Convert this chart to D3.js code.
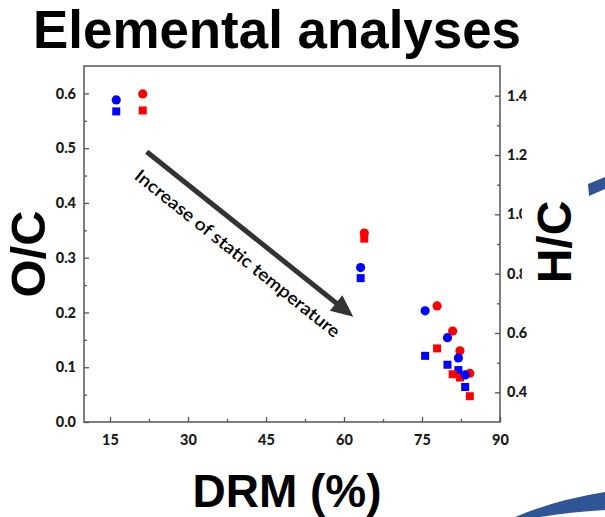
<!DOCTYPE html>
<html><head><meta charset="utf-8">
<script src="https://cdn.jsdelivr.net/npm/d3@7"></script>
<style>
html,body{margin:0;padding:0;background:#fff;}
svg{display:block;}
</style></head>
<body>
<script>
// ---- data ----
const drmBlue = [16.2, 63.2, 75.6, 79.9, 82.0, 83.3];
const ocBlue  = [0.588, 0.282, 0.203, 0.154, 0.117, 0.086];
const hcBlue  = [1.347, 0.785, 0.523, 0.493, 0.475, 0.418];
const drmRed  = [21.3, 63.9, 77.9, 80.9, 82.3, 84.2];
const ocRed   = [0.599, 0.345, 0.212, 0.166, 0.130, 0.089];
const hcRed   = [1.350, 0.918, 0.548, 0.461, 0.450, 0.387];
const xTicks  = [15, 30, 45, 60, 75, 90];
const xMinor  = [22.5, 37.5, 52.5, 67.5, 82.5];
const yLTicks = [0, 0.1, 0.2, 0.3, 0.4, 0.5, 0.6];
const yLMinor = [0.05, 0.15, 0.25, 0.35, 0.45, 0.55];
const yRTicks = [0.4, 0.6, 0.8, 1.0, 1.2, 1.4];
const yRMinor = [0.5, 0.7, 0.9, 1.1, 1.3];
const titleText = "Elemental analyses";
const arrowText = "Increase of static temperature";

const W = 605, H = 517;
const L = 84, R = 500, T = 66, B = 422;

const svg = d3.select("body").append("svg").attr("width", W).attr("height", H);

const x = d3.scaleLinear().domain([10, 90]).range([L, R]);
const yL = d3.scaleLinear().domain([0, 0.65]).range([B, T]);
const yR = d3.scaleLinear().domain([0.3, 1.5]).range([B, T]);

const tickFont = "Lato, 'Open Sans', sans-serif";
const axisColor = "#555";

function styleAxis(g){
  g.select(".domain").remove();
  g.selectAll(".tick line").attr("stroke", axisColor).attr("stroke-width", 1.3);
  g.selectAll(".tick text").attr("fill", "#1a1a1a").style("font-family", tickFont)
    .style("font-weight", "900").style("font-size", "14.5px");
}

// bottom axis
svg.append("g").attr("transform", `translate(0,${B})`)
  .call(d3.axisBottom(x).tickValues(xTicks).tickSize(-5).tickPadding(13).tickFormat(d3.format("d")))
  .call(styleAxis);
svg.append("g").attr("transform", `translate(0,${B})`)
  .call(d3.axisBottom(x).tickValues(xMinor).tickSize(-3).tickFormat(""))
  .call(styleAxis);

// left axis
svg.append("g").attr("transform", `translate(${L},0)`)
  .call(d3.axisLeft(yL).tickValues(yLTicks).tickSize(-5).tickPadding(8).tickFormat(d3.format(".1f")))
  .call(styleAxis);
svg.append("g").attr("transform", `translate(${L},0)`)
  .call(d3.axisLeft(yL).tickValues(yLMinor).tickSize(-3).tickFormat(""))
  .call(styleAxis);

// right axis
svg.append("g").attr("transform", `translate(${R},0)`)
  .call(d3.axisRight(yR).tickValues(yRTicks).tickSize(-5).tickPadding(7).tickFormat(d3.format(".1f")))
  .call(styleAxis);
svg.append("g").attr("transform", `translate(${R},0)`)
  .call(d3.axisRight(yR).tickValues(yRMinor).tickSize(-3).tickFormat(""))
  .call(styleAxis);

// frame
svg.append("rect").attr("x", L).attr("y", T).attr("width", R - L).attr("height", B - T)
  .attr("fill", "none").attr("stroke", axisColor).attr("stroke-width", 1.5);

// markers
const sq = 8, rad = 4.6;
function squares(xs, ys, color){
  svg.append("g").selectAll("rect").data(xs.map((d,i)=>[d, ys[i]])).join("rect")
    .attr("x", d => x(d[0]) - sq/2).attr("y", d => yR(d[1]) - sq/2)
    .attr("width", sq).attr("height", sq).attr("fill", color);
}
function circles(xs, ys, color){
  svg.append("g").selectAll("circle").data(xs.map((d,i)=>[d, ys[i]])).join("circle")
    .attr("cx", d => x(d[0])).attr("cy", d => yL(d[1])).attr("r", rad).attr("fill", color);
}
squares(drmBlue, hcBlue, "#0000ff");
squares(drmRed, hcRed, "#ff0000");
circles(drmRed, ocRed, "#ff0000");
circles(drmBlue, ocBlue, "#0000ff");

// arrow
const a0 = [146.7, 151.7], a1 = [353.3, 316.7];
const dx = a1[0]-a0[0], dy = a1[1]-a0[1], len = Math.hypot(dx, dy);
const ux = dx/len, uy = dy/len, nx = -uy, ny = ux;
const headL = 22, headW = 10;
const hb = [a1[0]-ux*headL, a1[1]-uy*headL];
svg.append("line").attr("x1", a0[0]).attr("y1", a0[1]).attr("x2", hb[0]+ux*2).attr("y2", hb[1]+uy*2)
  .attr("stroke", "#333").attr("stroke-width", 5);
svg.append("polygon").attr("points", [a1, [hb[0]+nx*headW, hb[1]+ny*headW], [hb[0]-nx*headW, hb[1]-ny*headW]].map(p=>p.join(",")).join(" "))
  .attr("fill", "#333");
const ang = Math.atan2(dy, dx) * 180 / Math.PI;
const tc = [a0[0] + ux*134.5 + nx*29, a0[1] + uy*134.5 + ny*29];
svg.append("text").attr("transform", `translate(${tc[0]},${tc[1]}) rotate(${ang})`)
  .attr("text-anchor", "middle").attr("textLength", 257).attr("lengthAdjust", "spacingAndGlyphs")
  .style("font-family", tickFont).style("font-weight", "600").style("font-size", "17.5px").attr("fill", "#000")
  .text(arrowText);

// H/C label with white background
svg.append("rect").attr("x", 522).attr("y", 192).attr("width", 60).attr("height", 102).attr("fill", "#fff");
svg.append("text").attr("transform", "translate(571,242) rotate(-90)").attr("text-anchor", "middle")
  .style("font-family", "'Liberation Sans', Arial, sans-serif").style("font-weight", "700").style("font-size", "48px")
  .text("H/C");
// O/C label
svg.append("text").attr("transform", "translate(45,254) rotate(-90)").attr("text-anchor", "middle")
  .style("font-family", "'Liberation Sans', Arial, sans-serif").style("font-weight", "700").style("font-size", "49px")
  .text("O/C");
// x label
svg.append("text").attr("x", 287).attr("y", 507).attr("text-anchor", "middle")
  .style("font-family", "'Liberation Sans', Arial, sans-serif").style("font-weight", "700").style("font-size", "46px")
  .text("DRM (%)");
// title
svg.append("text").attr("x", 277).attr("y", 48).attr("text-anchor", "middle")
  .attr("textLength", 488).attr("lengthAdjust", "spacingAndGlyphs")
  .style("font-family", "'Liberation Sans', Arial, sans-serif").style("font-weight", "700").style("font-size", "53px")
  .text(titleText);

// decorative blue shapes
svg.append("path").attr("d", "M588,184 L605,177 L605,189 L589,196 Z").attr("fill", "#2f5597");
svg.append("path").attr("d", "M515,517 Q555,500 605,492 L605,510 Q570,512 540,517 Z").attr("fill", "#2f5597");
</script>
</body></html>
